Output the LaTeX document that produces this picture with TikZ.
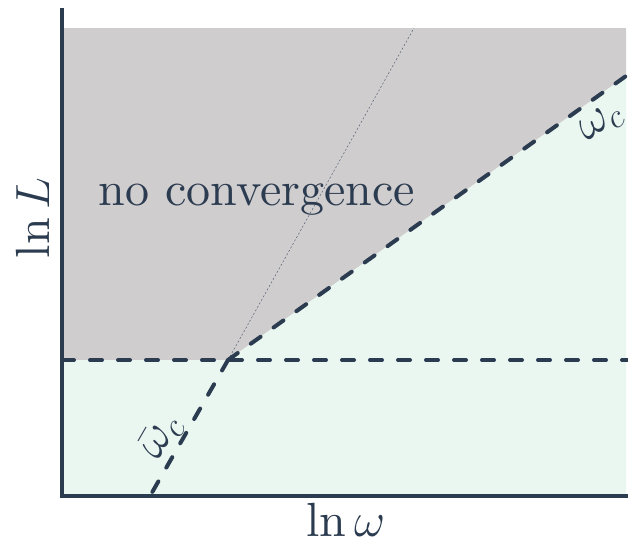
\RequirePackage{fix-cm}
\documentclass[tikz,border=0pt]{standalone}
\usepackage{fontspec}
\setmainfont{lmroman10-regular.otf}
\definecolor{ink}{RGB}{44,60,80}
\definecolor{grayfill}{RGB}{208,205,207}
\definecolor{greenfill}{RGB}{234,246,240}
\tikzset{
  bigtext/.style={text=ink, font=\fontsize{48}{56}\selectfont, inner sep=0pt},
  bnd/.style={draw=ink, line width=4pt, line cap=round, dash pattern=on 12pt off 16pt},
  axisline/.style={draw=ink, line width=4pt},
  guide/.style={draw=ink!80, line width=0.5pt, dash pattern=on 2pt off 2pt}
}
\begin{document}
\begin{tikzpicture}[x=1pt,y=-1pt]
\useasboundingbox (0,0) rectangle (628,544);
% coordinates
\coordinate (K) at (228,360);
\coordinate (TL) at (62,28);
\coordinate (TR) at (626,28);
\coordinate (R) at (626,76);
\coordinate (HL) at (62,360);
\coordinate (HR) at (628,360);
\coordinate (BL) at (62,496);
\coordinate (BR) at (626,496);
\coordinate (B) at (150,496);
\coordinate (GT) at (414,28);
\coordinate (AT) at (62,8);
\coordinate (AR) at (628,496);
% fills
\fill[grayfill] (TL) -- (TR) -- (R) -- (K) -- (HL) -- cycle;
\fill[greenfill] (HL) -- (K) -- (R) -- (BR) -- (BL) -- cycle;
% text
\node[bigtext, anchor=base] (nc) at (257,205) {no convergence};
% guide line
\draw[guide] (K) -- (GT);
% boundaries
\draw[bnd] (HL) -- (HR);
\draw[bnd] (K) -- (R);
\draw[bnd] (K) -- (B);
% labels
\node[bigtext, rotate=35.4] (wc) at (601,123) {$\omega_c$};
\node[bigtext, rotate=60] (wbc) at (161,437) {$\bar{\omega}_c$};
% axes
\draw[axisline] (AT) -- (BL) -- (AR);
\node[bigtext, rotate=90] (yl) at (33,218) {$\ln L$};
\node[bigtext] (xl) at (346,520) {$\ln\omega$};
\end{tikzpicture}
\end{document}
